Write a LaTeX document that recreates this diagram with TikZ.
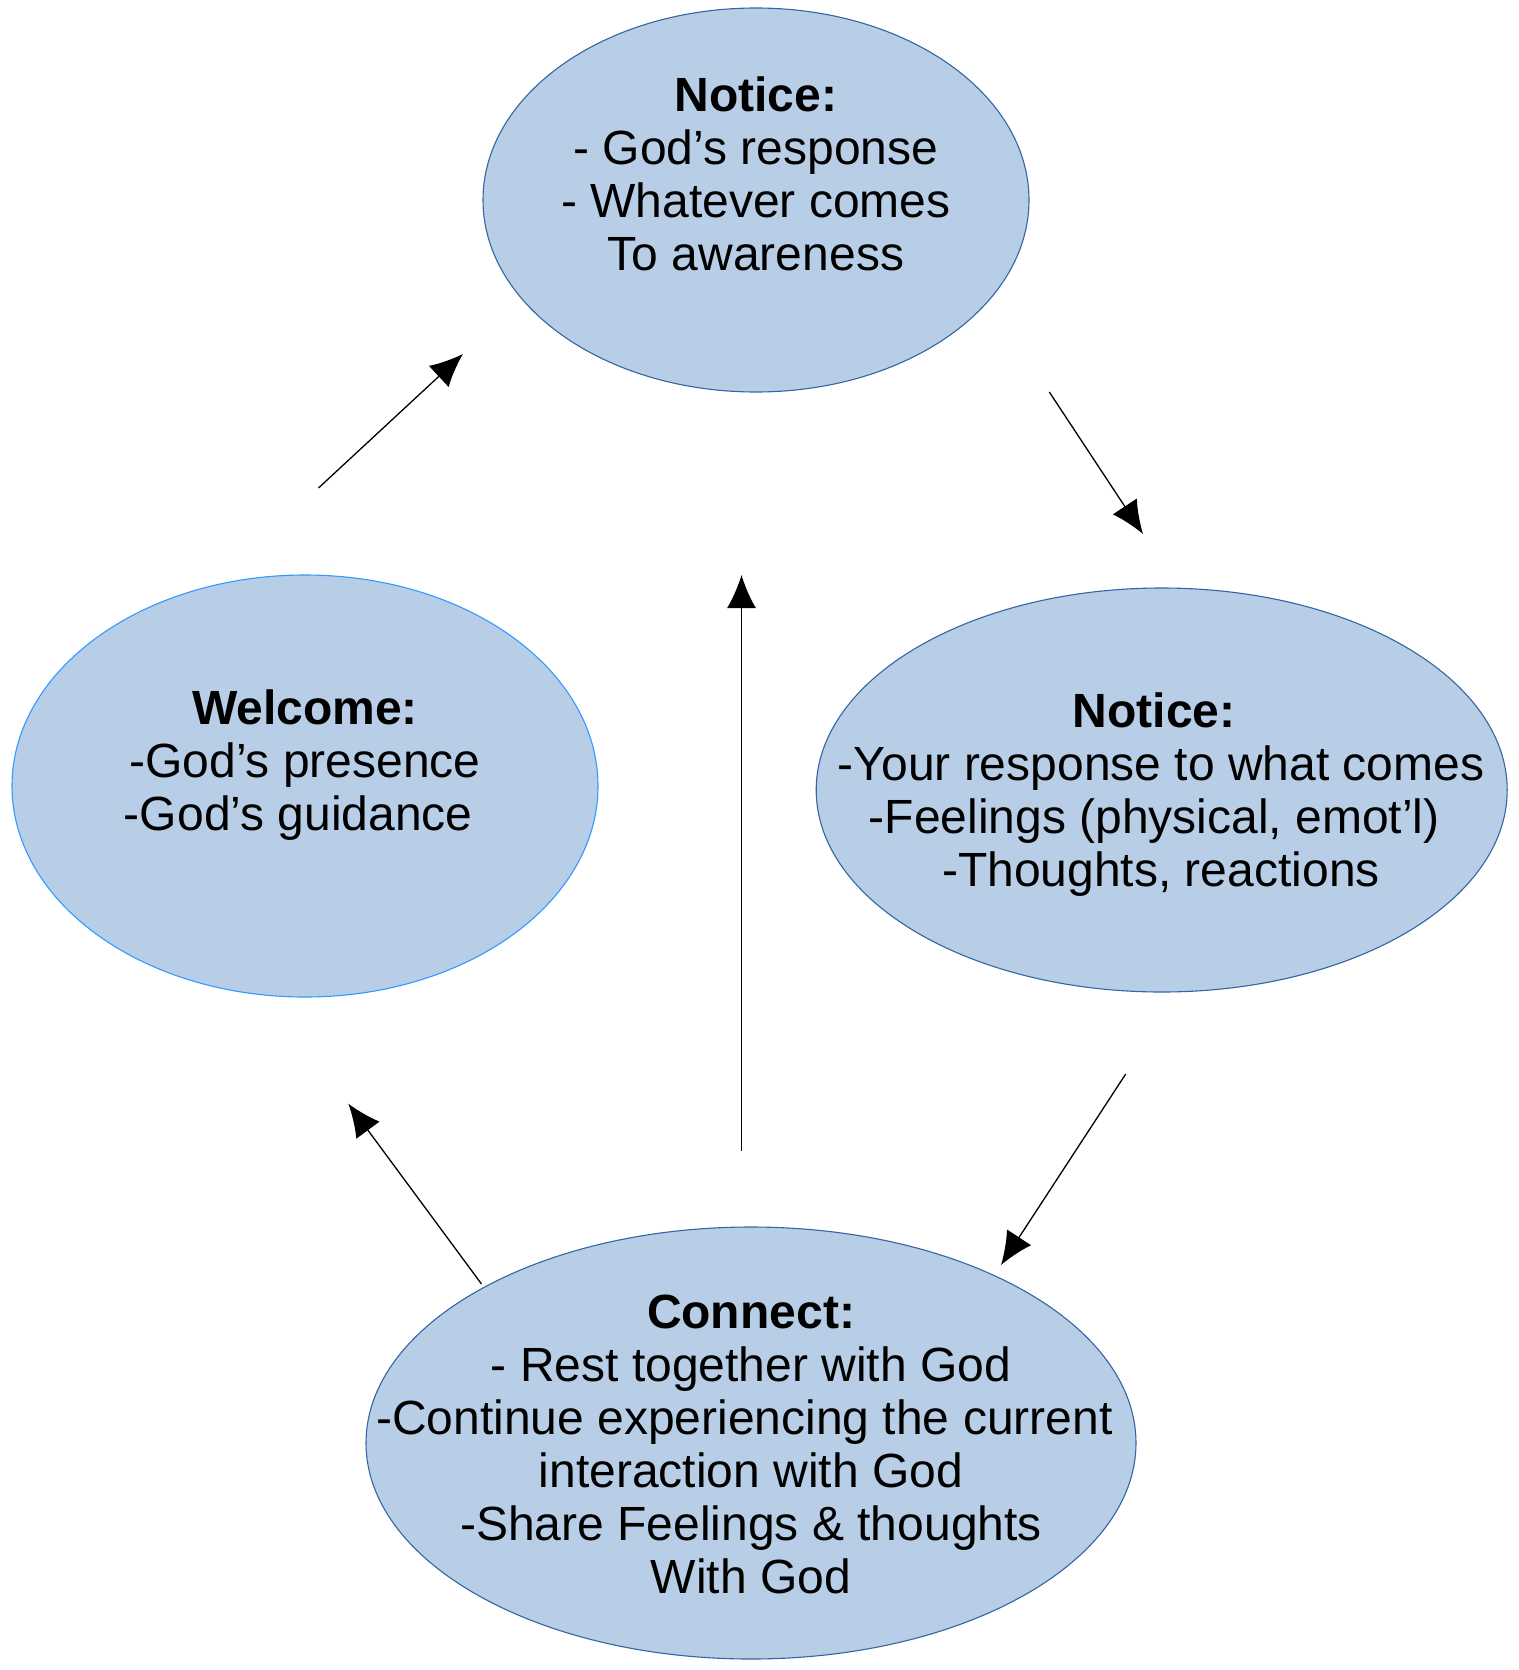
\documentclass[tikz,border=0pt]{standalone}
\usepackage{fontspec}
\setmainfont{Liberation Sans}
\usetikzlibrary{shapes.geometric,arrows.meta}
\definecolor{bubblefill}{RGB}{183,206,230}
\definecolor{bubbleline}{RGB}{52,101,164}
\definecolor{brightline}{RGB}{51,153,255}
\newcommand{\trsp}{\rule{0.278em}{0pt}}
\begin{document}
\begin{tikzpicture}[x=1pt,y=-1pt,
  bubble/.style={ellipse,draw=bubbleline,fill=bubblefill,line width=1.1pt,inner sep=0pt},
  label/.style={align=center,inner sep=0pt,font=\fontsize{48}{53}\selectfont},
  flow/.style={line width=1.3pt,-{Latex[length=33pt,width=29pt]}}]
\useasboundingbox (0,0) rectangle (1518,1670);
\node[bubble,minimum width=546pt,minimum height=384pt] (top) at (756,200) {};
\node[bubble,draw=brightline,minimum width=586pt,minimum height=422pt] (welcome) at (305,786) {};
\node[bubble,minimum width=691pt,minimum height=404pt] (right) at (1161.7,790) {};
\node[bubble,minimum width=770pt,minimum height=432pt] (connect) at (751,1443) {};
\node[label] (toptext) at (756,174) {\textbf{Notice:}\\- God’s response\\- Whatever comes\\To awareness};
\node[label] (welcometext) at (305,764.6) {\textbf{Welcome:}\\-God’s presence\\-God’s guidance\trsp};
\node[label] (righttext) at (1161,795) {\textbf{Notice:}\trsp\\-Your response to what comes\\-Feelings (physical, emot’l)\trsp\\-Thoughts, reactions};
\node[label] (connecttext) at (751,1444.2) {\textbf{Connect:}\\- Rest together with God\\-Continue experiencing the current\trsp\\interaction with God\\-Share Feelings \& thoughts\\With God};
\coordinate (a1s) at (318.5,488); \coordinate (a1e) at (463,354);
\coordinate (a2s) at (1049.3,392); \coordinate (a2e) at (1143,534);
\coordinate (a3s) at (1125.7,1074); \coordinate (a3e) at (1001,1265);
\coordinate (a4s) at (481.5,1284); \coordinate (a4e) at (348.3,1103.6);
\coordinate (a5s) at (741.5,1150.5); \coordinate (a5e) at (741.5,575);
\draw[flow] (a1s) -- (a1e);
\draw[flow] (a2s) -- (a2e);
\draw[flow] (a3s) -- (a3e);
\draw[flow] (a4s) -- (a4e);
\draw[flow] (a5s) -- (a5e);
\end{tikzpicture}
\end{document}
